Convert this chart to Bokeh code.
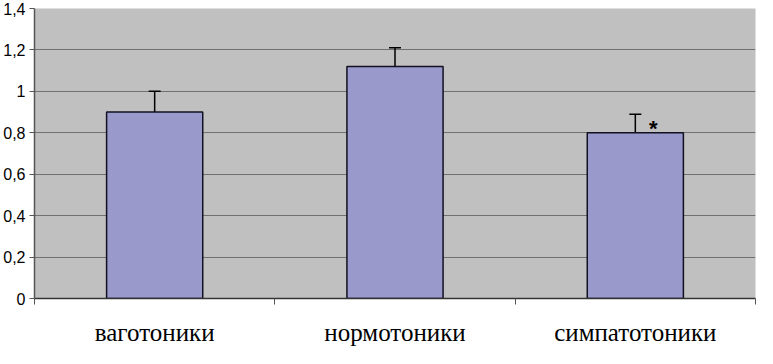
from bokeh.plotting import figure
from bokeh.models import ColumnDataSource, FixedTicker, Whisker, TeeHead, Range1d, LinearAxis
from bokeh.core.properties import value
from bokeh.embed import file_html
from bokeh.resources import INLINE

categories = ["ваготоники", "нормотоники", "симпатотоники"]
values = [0.90, 1.12, 0.80]
errors = [0.10, 0.09, 0.09]
y_ticks = [0, 0.2, 0.4, 0.6, 0.8, 1.0, 1.2, 1.4]
y_tick_labels = ["0", "0,2", "0,4", "0,6", "0,8", "1", "1,2", "1,4"]
marks = ["", "", "*"]

xs = [i + 0.5 for i in range(len(categories))]
src = ColumnDataSource(dict(
    x=xs, top=values,
    upper=[v + e for v, e in zip(values, errors)],
    mark=marks,
))

p = figure(width=757, height=348, output_backend="svg", toolbar_location=None,
           x_range=Range1d(0, 3), y_range=Range1d(0, 1.4),
           min_border_left=33, min_border_right=2, min_border_top=8, min_border_bottom=0,
           x_axis_location=None, y_axis_location=None)
p.background_fill_color = "#c0c0c0"
p.border_fill_color = "white"
p.outline_line_color = None

p.vbar(x="x", top="top", width=0.4, bottom=0, source=src,
       fill_color="#9999cc", line_color="#111122", line_width=1.5)

w = Whisker(base="x", lower="top", upper="upper", source=src, dimension="height",
            line_color="black", line_width=1.5,
            upper_head=TeeHead(size=12, line_color="black", line_width=1.5),
            lower_head=None)
p.add_layout(w)

p.text(x="x", y="upper", text="mark", source=src, x_offset=18, y_offset=14,
       text_font=value("Liberation Sans"), text_font_size="22px", text_font_style="bold",
       text_align="center", text_baseline="middle", text_color="black")

yaxis = LinearAxis(ticker=FixedTicker(ticks=y_ticks),
                   major_label_overrides={t: l for t, l in zip(y_ticks, y_tick_labels)})
yaxis.major_label_text_font = "Liberation Sans"
yaxis.major_label_text_font_size = "16px"
yaxis.major_label_text_color = "black"
yaxis.axis_line_color = "#555555"
yaxis.axis_line_width = 1.5
yaxis.major_tick_line_color = "#555555"
yaxis.major_tick_out = 5
yaxis.major_tick_in = 0
yaxis.minor_tick_line_color = None
yaxis.major_label_standoff = 4
p.add_layout(yaxis, "left")

xaxis = LinearAxis(ticker=FixedTicker(ticks=xs, minor_ticks=[0, 1, 2, 3]),
                   major_label_overrides={x: c for x, c in zip(xs, categories)})
xaxis.major_label_text_font = "Liberation Serif"
xaxis.major_label_text_font_size = "25px"
xaxis.major_label_text_color = "black"
xaxis.axis_line_color = "#333333"
xaxis.axis_line_width = 1.5
xaxis.major_tick_line_color = None
xaxis.major_tick_out = 0
xaxis.major_tick_in = 0
xaxis.minor_tick_line_color = "#555555"
xaxis.minor_tick_out = 6
xaxis.minor_tick_in = 0
xaxis.major_label_standoff = 14
p.add_layout(xaxis, "below")

p.xgrid.grid_line_color = None
p.ygrid.ticker = FixedTicker(ticks=y_ticks)
p.ygrid.grid_line_color = "#707070"
p.ygrid.grid_line_width = 1

open("out.html", "w").write(file_html(p, INLINE))
